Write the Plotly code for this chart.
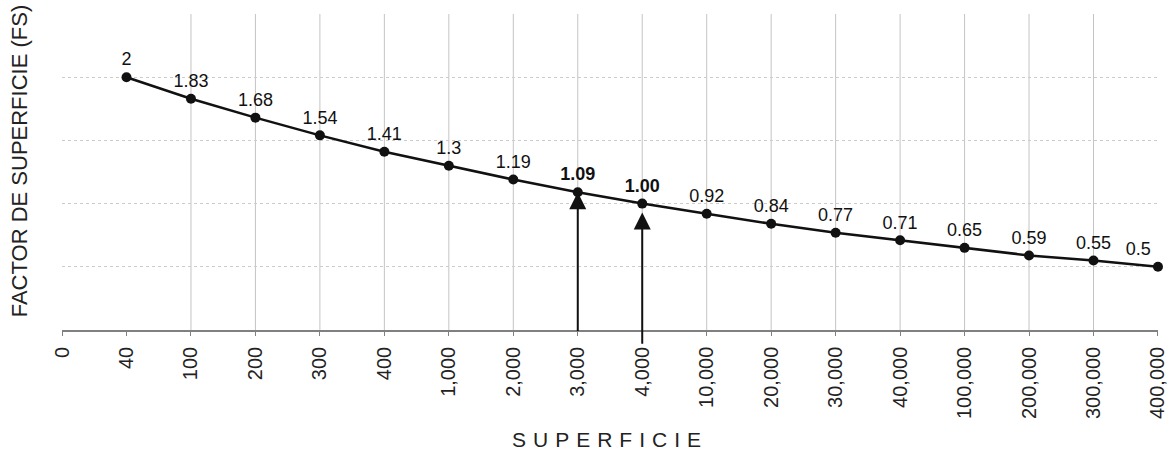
import plotly.graph_objects as go

# Surface categories (x axis) and surface factor values
categories = ["0", "40", "100", "200", "300", "400", "1,000", "2,000", "3,000",
              "4,000", "10,000", "20,000", "30,000", "40,000", "100,000",
              "200,000", "300,000", "400,000"]
factor_values = [2, 1.83, 1.68, 1.54, 1.41, 1.3, 1.19, 1.09, 1.00, 0.92,
                 0.84, 0.77, 0.71, 0.65, 0.59, 0.55, 0.5]
factor_labels = ["2", "1.83", "1.68", "1.54", "1.41", "1.3", "1.19", "<b>1.09</b>",
                 "<b>1.00</b>", "0.92", "0.84", "0.77", "0.71", "0.65", "0.59",
                 "0.55", "0.5"]
highlight_categories = ["3,000", "4,000"]

FONT = "Liberation Sans, Arial, sans-serif"
idx = {c: i for i, c in enumerate(categories)}
x_pts = [idx[c] for c in categories[1:]]

fig = go.Figure()

# Vertical grid lines for the inner categories
for c in categories[2:-1]:
    fig.add_shape(type="line", xref="x", yref="paper", x0=idx[c], x1=idx[c],
                  y0=0, y1=1, line=dict(color="#c4c4c4", width=1), layer="below")

positions = ["top center"] * (len(factor_values) - 1) + ["top left"]
fig.add_trace(go.Scatter(
    x=x_pts, y=factor_values, mode="lines+markers+text",
    line=dict(color="#111111", width=2.5),
    marker=dict(color="#111111", size=10),
    text=factor_labels, textposition=positions,
    textfont=dict(family=FONT, size=18, color="#111111"),
    cliponaxis=False, showlegend=False,
))

# Arrows pointing up to the highlighted surfaces
for c, standoff, tail in zip(highlight_categories, [0, 9], [-0.02, -0.12]):
    i = idx[c]
    v = factor_values[i - 1]
    fig.add_annotation(x=i, y=v, ax=i, ay=tail, xref="x", yref="y",
                       axref="x", ayref="y", showarrow=True, arrowhead=2,
                       arrowsize=1.7, arrowwidth=2, arrowcolor="#111111",
                       standoff=standoff, text="")

# Axis titles
fig.add_annotation(text="FACTOR DE SUPERFICIE (FS)", xref="paper", yref="paper",
                   x=-0.038, y=0.535, textangle=-90, showarrow=False,
                   font=dict(family=FONT, size=22, color="#222222"),
                   xanchor="center", yanchor="middle")
fig.add_annotation(text="\u2004".join("SUPERFICIE"), xref="paper", yref="paper",
                   x=0.497, y=-0.348, showarrow=False,
                   font=dict(family=FONT, size=21, color="#222222"),
                   xanchor="center", yanchor="middle")

fig.update_xaxes(
    range=[-0.0005, len(categories) - 1 + 0.0005],
    tickmode="array", tickvals=list(range(len(categories))), ticktext=categories,
    tickangle=-90, tickfont=dict(family=FONT, size=20, color="#222222"),
    ticklabeloverflow="allow", automargin=False,
    showgrid=False, zeroline=False,
    showline=True, linecolor="#808080", linewidth=1.5,
    ticks="outside", ticklen=4, tickcolor="#808080", ticklabelstandoff=3,
)
fig.update_yaxes(
    range=[0, 2.5], dtick=0.5, showticklabels=False, automargin=False,
    showgrid=True, gridcolor="#cccccc", griddash="dot", gridwidth=1.2,
    zeroline=False, showline=False,
)
fig.update_layout(
    width=1167, height=452,
    margin=dict(l=62, r=9, t=14, b=122, autoexpand=False),
    plot_bgcolor="white", paper_bgcolor="white",
)

fig.write_html("out.html")
